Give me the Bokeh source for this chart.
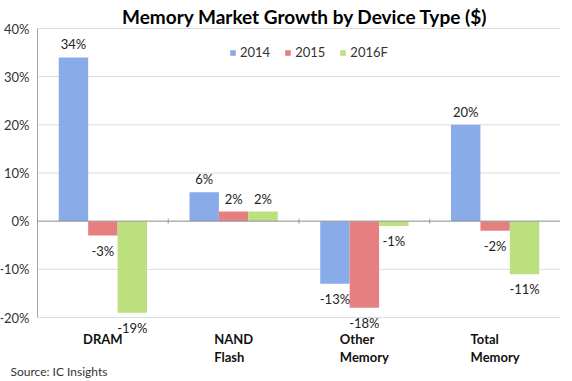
import math
from bokeh.plotting import figure
from bokeh.models import (ColumnDataSource, LabelSet, Label, Legend, LegendItem,
                          Range1d)
from bokeh.transform import dodge
from bokeh.embed import file_html
from bokeh.resources import INLINE
from bokeh.core.properties import value

categories = ["DRAM", "NAND\nFlash", "Other\nMemory", "Total\nMemory"]
series_names = ["2014", "2015", "2016F"]
s2014 = [34, 6, -13, 20]
s2015 = [-3, 2, -18, -2]
s2016 = [-19, 2, -1, -11]
y_ticks = [-20, -10, 0, 10, 20, 30, 40]
tick_labels = [f"{t}%" for t in y_ticks]

colors = ["#89ace8", "#e68080", "#bde07e"]
FONT = "Lato"

# layout: the frame covers the whole figure so no text is clipped
W, H = 560, 378
FRAME_W, FRAME_H = W, H
CAT_W, AXIS_H = 523, 289          # px spanned by the categories / by the -20%..40% axis
TOP_PAD = 28                      # px above the 40% line
n = len(categories)
y_lo, y_hi = min(y_ticks), max(y_ticks)
ppu_y = AXIS_H / (y_hi - y_lo)
x_start = -(FRAME_W - CAT_W) * n / CAT_W
y_end = y_hi + TOP_PAD / ppu_y
y_start = y_lo - (FRAME_H - AXIS_H - TOP_PAD) / ppu_y

xc = [i + 0.5 for i in range(n)]
src = ColumnDataSource(dict(x=xc, s2014=s2014, s2015=s2015, s2016=s2016))

p = figure(width=W, height=H, output_backend="svg", toolbar_location=None, title=None,
           x_range=Range1d(x_start, n), y_range=Range1d(y_start, y_end),
           min_border_left=0, min_border_right=0, min_border_top=0, min_border_bottom=0)
p.outline_line_color = None
p.background_fill_color = "white"
p.xaxis.visible = False
p.yaxis.visible = False
p.xgrid.grid_line_color = None
p.ygrid.grid_line_color = None

# title
p.add_layout(Label(x=n / 2, y=y_hi, x_offset=6, y_offset=12,
                   text="Memory Market Growth by Device Type ($)", text_align="center",
                   text_baseline="middle", text_font=FONT, text_font_style="bold",
                   text_font_size="19px", text_color="#000000"))

# gridlines, axis line, tick labels
p.segment(x0=[0] * len(y_ticks), y0=y_ticks, x1=[n] * len(y_ticks), y1=y_ticks,
          line_color="#dcdcdc", line_width=1)
p.segment(x0=[0], y0=[y_lo], x1=[0], y1=[y_hi], line_color="#a6a6a6", line_width=1)
p.add_layout(LabelSet(x="x", y="y", text="t",
                      source=ColumnDataSource(dict(x=[0] * len(y_ticks), y=y_ticks, t=tick_labels)),
                      text_align="right", text_baseline="middle", x_offset=-8,
                      text_font=value(FONT), text_font_size="13px", text_color="#333333"))

# category labels
p.add_layout(LabelSet(x="x", y="y", text="t",
                      source=ColumnDataSource(dict(x=xc, y=[y_lo] * n, t=categories)),
                      text_align="center", text_baseline="top", y_offset=-13,
                      text_font=value(FONT), text_font_style="bold", text_font_size="13px",
                      text_line_height=1.15, text_color="#111111"))

# source note
p.add_layout(Label(x=x_start, y=y_lo, x_offset=10, y_offset=-54,
                   text="Source:  IC Insights", text_align="left", text_baseline="middle",
                   text_font=FONT, text_font_size="12px", text_color="#333333"))

# bars
keys = ["s2014", "s2015", "s2016"]
offsets = [-0.225, 0.0, 0.225]
items = []
for k, off, c, name in zip(keys, offsets, colors, series_names):
    r = p.vbar(x=dodge("x", off), top=k, bottom=0, width=0.225, source=src,
               fill_color=c, line_color=None)
    items.append(LegendItem(label=name, renderers=[r]))

# zero line with category boundary ticks
p.segment(x0=[0], y0=[0], x1=[n], y1=[0], line_color="#999999", line_width=1)
bounds = list(range(n + 1))
p.scatter(x=bounds, y=[0] * len(bounds), marker="dash", size=5, angle=math.pi / 2,
          line_color="#999999", line_width=1)

# data labels
for off, vals in zip(offsets, [s2014, s2015, s2016]):
    pos = ColumnDataSource(dict(
        x=[x + off for x, v in zip(xc, vals) if v >= 0],
        y=[v for v in vals if v >= 0],
        t=[f"{v}%" for v in vals if v >= 0]))
    neg = ColumnDataSource(dict(
        x=[x + off for x, v in zip(xc, vals) if v < 0],
        y=[v for v in vals if v < 0],
        t=[f"{v}%" for v in vals if v < 0]))
    p.add_layout(LabelSet(x="x", y="y", text="t", source=pos, text_align="center",
                          text_baseline="bottom", y_offset=5, text_font=value(FONT),
                          text_font_size="13px", text_color="#222222"))
    p.add_layout(LabelSet(x="x", y="y", text="t", source=neg, text_align="center",
                          text_baseline="top", y_offset=-7, text_font=value(FONT),
                          text_font_size="13px", text_color="#222222"))

legend = Legend(items=items, orientation="horizontal", location=(229, FRAME_H - 60),
                background_fill_alpha=0, border_line_color=None,
                label_text_font=FONT, label_text_font_size="13px", label_text_color="#333333",
                glyph_width=7, glyph_height=7, label_standoff=4, spacing=14, padding=2,
                label_height=14, label_width=10, margin=0)
p.add_layout(legend)

open("out.html", "w").write(file_html(p, INLINE))
